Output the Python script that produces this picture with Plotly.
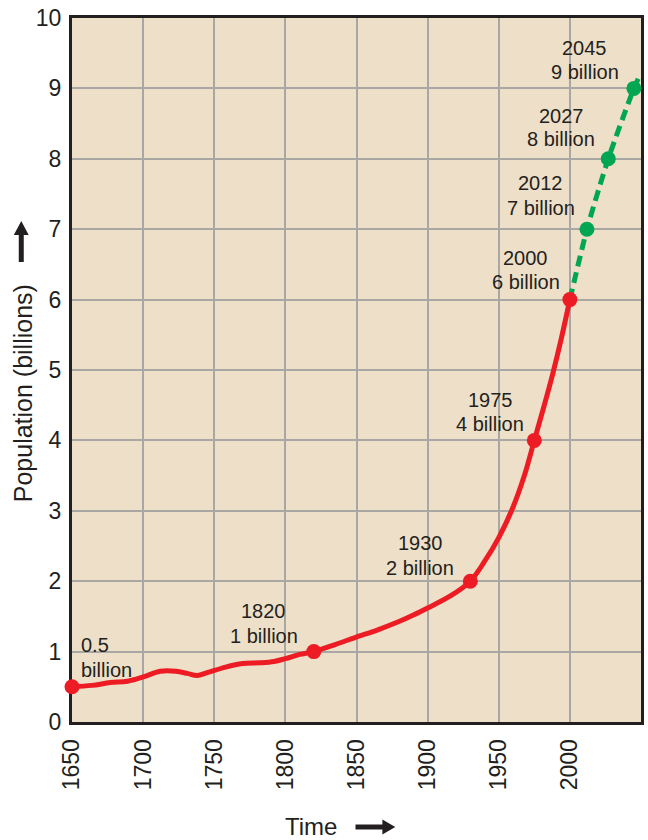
import plotly.graph_objects as go

# World population, historical curve (billions)
hist_years = [1650, 1664, 1677, 1689, 1700, 1712, 1723, 1731, 1738, 1745, 1758, 1770,
              1782, 1792, 1800, 1810, 1820, 1835, 1849, 1865, 1879, 1890, 1900, 1916,
              1930, 1940, 1950, 1960, 1968, 1975, 1982, 1988, 1994, 2000]
hist_pop = [0.5, 0.52, 0.56, 0.58, 0.64, 0.72, 0.72, 0.69, 0.66, 0.70, 0.78, 0.83,
            0.84, 0.86, 0.9, 0.96, 1.0, 1.1, 1.2, 1.31, 1.42, 1.52, 1.62, 1.79,
            2.0, 2.28, 2.62, 3.05, 3.5, 4.0, 4.5, 4.95, 5.45, 6.0]

# Projected population (billions)
proj_years = [2000, 2012, 2027, 2045, 2050]
proj_pop = [6.0, 7.0, 8.0, 9.0, 9.22]

# Milestones
hist_mile_years = [1650, 1820, 1930, 1975, 2000]
hist_mile_pop = [0.5, 1, 2, 4, 6]
proj_mile_years = [2012, 2027, 2045]
proj_mile_pop = [7, 8, 9]

label_top = ["0.5", "1820", "1930", "1975", "2000", "2012", "2027", "2045"]
label_bottom = ["billion", "1 billion", "2 billion", "4 billion", "6 billion",
                "7 billion", "8 billion", "9 billion"]

x_ticks = [1650, 1700, 1750, 1800, 1850, 1900, 1950, 2000, 2050]
y_ticks = [0, 1, 2, 3, 4, 5, 6, 7, 8, 9, 10]

RED = "#ed1c24"
GREEN = "#00a651"
INK = "#231f20"
FONT = "Liberation Sans, Arial, sans-serif"

W, H = 648, 840
PL, PR, PT, PB = 72, 644, 18, 722


def paper(px, py):
    return (px - PL) / (PR - PL), (PB - py) / (PB - PT)


fig = go.Figure()

fig.add_trace(go.Scatter(
    x=hist_years, y=hist_pop, mode="lines",
    line=dict(color=RED, width=5, shape="spline", smoothing=1.0),
    hoverinfo="skip", showlegend=False))

fig.add_trace(go.Scatter(
    x=proj_years, y=proj_pop, mode="lines",
    line=dict(color=GREEN, width=5, dash="11px,6px", shape="spline", smoothing=0.6),
    hoverinfo="skip", showlegend=False))

fig.add_trace(go.Scatter(
    x=proj_mile_years, y=proj_mile_pop, mode="markers",
    marker=dict(color=GREEN, size=15), cliponaxis=False,
    hoverinfo="skip", showlegend=False))

fig.add_trace(go.Scatter(
    x=hist_mile_years, y=hist_mile_pop, mode="markers",
    marker=dict(color=RED, size=15), cliponaxis=False,
    hoverinfo="skip", showlegend=False))

# label placement around each milestone: (x shift, top line shift, bottom line shift) in px
label_offsets = [(8, 42, 17), (-50, 41, 16), (-50, 38, 13), (-44, 40, 16),
                 (-44, 42, 18), (-46, 46, 21), (-47, 43, 20), (-49, 40, 16)]

all_years = hist_mile_years + proj_mile_years
all_pop = hist_mile_pop + proj_mile_pop
for i, (yr, pop) in enumerate(zip(all_years, all_pop)):
    dx, dy1, dy2 = label_offsets[i]
    anchor = "left" if i == 0 else "center"
    for txt, dy in ((label_top[i], dy1), (label_bottom[i], dy2)):
        fig.add_annotation(
            x=yr, y=pop, xref="x", yref="y", text=txt, showarrow=False,
            xanchor=anchor, yanchor="middle", xshift=dx, yshift=dy, borderpad=0,
            font=dict(family=FONT, size=20, color=INK))

# axis titles
tx, ty = paper(23, 393)
fig.add_annotation(x=tx, y=ty, xref="paper", yref="paper", text="Population (billions)",
                   showarrow=False, textangle=-90, xanchor="center", yanchor="middle",
                   font=dict(family=FONT, size=25, color=INK))
tx, ty = paper(312, 826)
fig.add_annotation(x=tx, y=ty, xref="paper", yref="paper", text="Time",
                   showarrow=False, xanchor="center", yanchor="middle",
                   font=dict(family=FONT, size=24, color=INK))


def seg(p0, p1):
    (x0, y0), (x1, y1) = paper(*p0), paper(*p1)
    return dict(type="line", xref="paper", yref="paper", x0=x0, y0=y0, x1=x1, y1=y1,
                line=dict(color=INK, width=5))


def tri(pts):
    coords = [paper(*p) for p in pts]
    path = "M " + " L ".join(f"{x},{y}" for x, y in coords) + " Z"
    return dict(type="path", xref="paper", yref="paper", path=path,
                fillcolor=INK, line=dict(color=INK, width=0))


shapes = [
    seg((21, 262), (21, 232)),
    tri([(13.5, 235), (28.5, 235), (21, 221)]),
    seg((357, 827), (386, 827)),
    tri([(384, 819.5), (384, 834.5), (397, 827)]),
]

axis_common = dict(
    showline=True, linewidth=3, linecolor=INK, mirror=True,
    showgrid=True, gridcolor="#a9a7a4", gridwidth=2,
    zeroline=False, ticks="", layer="below traces",
)

fig.update_xaxes(
    range=[1650, 2050], tickvals=x_ticks, ticktext=[str(v) for v in x_ticks],
    tickangle=-90, ticklabelstandoff=5,
    tickfont=dict(family=FONT, size=23, color=INK), **axis_common)
fig.update_yaxes(
    range=[0, 10], tickvals=y_ticks, ticktext=[str(v) for v in y_ticks],
    ticklabelstandoff=3,
    tickfont=dict(family=FONT, size=23, color=INK), **axis_common)

fig.update_layout(
    width=W, height=H,
    margin=dict(l=PL, r=W - PR, t=PT, b=H - PB),
    paper_bgcolor="white", plot_bgcolor="#eedfc8",
    shapes=shapes, showlegend=False,
)

fig.write_html("out.html")
